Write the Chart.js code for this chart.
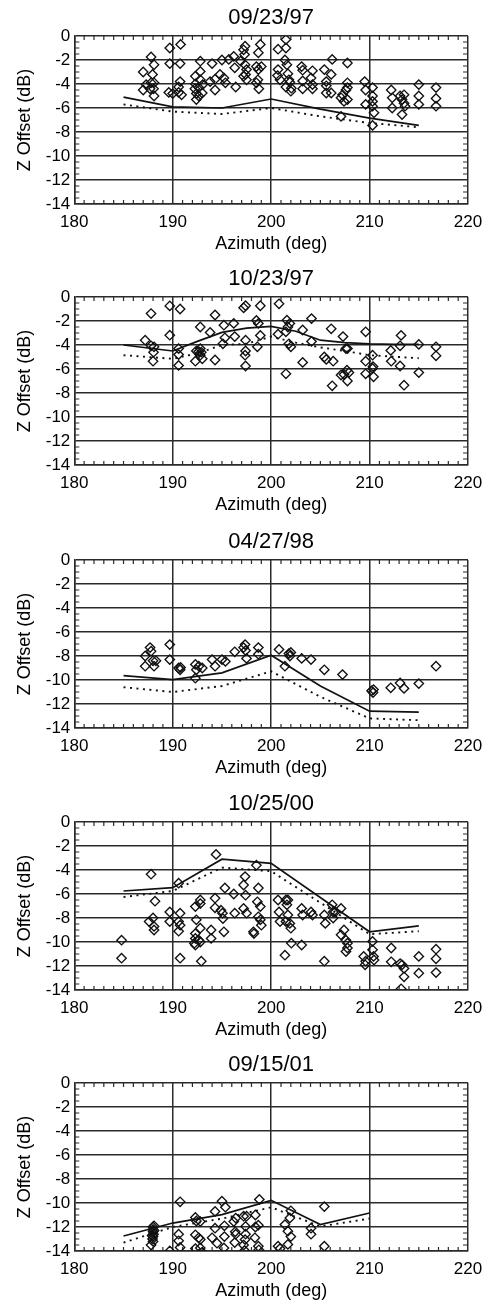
<!DOCTYPE html>
<html><head><meta charset="utf-8">
<script src="https://cdn.jsdelivr.net/npm/chart.js@4.4.1/dist/chart.umd.min.js"></script>
<style>
html,body{margin:0;padding:0;background:#fff;overflow:hidden;width:490px;height:1300px;}
.panel{position:absolute;left:0;width:490px;height:256px;}
canvas{display:block;}
</style></head><body>
<div class="panel" style="top:0px"><canvas id="c1" width="490" height="256"></canvas></div>
<div class="panel" style="top:261px"><canvas id="c2" width="490" height="256"></canvas></div>
<div class="panel" style="top:524px"><canvas id="c3" width="490" height="256"></canvas></div>
<div class="panel" style="top:786px"><canvas id="c4" width="490" height="256"></canvas></div>
<div class="panel" style="top:1047px"><canvas id="c5" width="490" height="256"></canvas></div>
<script>
const FONT = '"Liberation Sans", Arial, Helvetica, sans-serif';
const titles = ['09/23/97','10/23/97','04/27/98','10/25/00','09/15/01'];
const xTickValues = [180,190,200,210,220];
const yTickValues = [0,-2,-4,-6,-8,-10,-12,-14];
const xAxisTitle = 'Azimuth (deg)';
const yAxisTitle = 'Z Offset (dB)';

// Panel 1 : 09/23/97
const p1Points = [[187.0,-3.0],[187.0,-4.5],[187.3,-4.05],[187.8,-1.75],[187.95,-3.2],[188.1,-2.4],[187.8,-3.9],[188.1,-3.9],[188.05,-4.4],[188.1,-5.0],[187.7,-4.4],
[189.7,-1.0],[189.7,-2.3],[189.6,-4.7],[190.0,-4.8],[190.8,-0.7],[190.75,-2.3],[190.75,-3.8],[190.6,-4.25],[190.6,-4.7],[190.9,-4.9],
[192.3,-3.35],[192.3,-4.0],[192.25,-4.4],[192.4,-4.8],[192.4,-5.3],[192.8,-2.1],[192.8,-2.95],[192.8,-3.65],[192.65,-4.3],[193.0,-4.75],[192.65,-5.0],[193.05,-4.05],
[193.8,-3.8],[194.0,-2.3],[194.3,-4.5],[194.3,-3.6],[195.0,-2.0],[194.8,-3.2],[195.2,-3.5],[195.35,-3.9],[195.7,-1.95],
[196.2,-1.7],[196.3,-2.65],[196.4,-4.25],[196.9,-2.1],[197.2,-1.15],[197.35,-0.85],[197.3,-1.55],[197.35,-2.4],[197.5,-2.8],[197.4,-3.2],[197.5,-3.65],[197.2,-3.35],
[198.9,-0.7],[198.7,-1.4],[198.5,-2.55],[198.7,-2.8],[199.0,-2.55],[198.65,-3.65],[198.5,-3.9],[198.75,-4.4],
[200.7,-1.1],[200.7,-2.8],[200.65,-3.3],[200.9,-3.65],
[201.5,-0.3],[201.5,-1.0],[201.4,-2.0],[201.6,-2.4],[201.7,-3.15],[201.8,-3.65],[201.5,-4.25],[201.9,-3.85],[202.05,-4.35],[202.0,-4.6],
[203.1,-2.55],[203.2,-2.85],[203.2,-3.75],[203.2,-4.4],[204.2,-2.9],[204.05,-3.5],[204.2,-4.05],[204.2,-4.4],
[205.4,-2.8],[205.6,-3.8],[205.6,-4.15],[205.6,-4.75],[206.2,-1.95],[206.1,-3.2],[206.1,-4.75],
[207.1,-6.7],[207.1,-5.15],[207.25,-4.9],[207.4,-5.45],[207.6,-4.5],[207.75,-2.25],[207.75,-3.9],[207.75,-4.3],[207.75,-5.3],
[209.5,-3.8],[209.6,-4.5],[209.6,-5.7],[210.3,-4.3],[210.3,-5.0],[210.3,-5.45],[210.3,-5.85],[210.45,-6.4],[210.3,-7.45],
[212.2,-4.5],[212.3,-5.15],[212.3,-6.0],[213.1,-5.0],[213.3,-5.3],[213.5,-4.9],[213.5,-5.6],[213.3,-6.55],[213.6,-5.85],
[215.0,-4.05],[215.0,-5.0],[215.0,-5.7],[216.75,-4.3],[216.75,-5.2],[216.75,-5.85]];
const p1SolidAz = [185,190,195,200,205,210,215];
const p1Solid = [-5.1,-5.9,-6.0,-5.25,-6.1,-6.85,-7.45];
const p1DotAz = [185,190,195,200,205,210,215];
const p1Dot = [-5.7,-6.3,-6.5,-6.0,-6.7,-7.25,-7.6];

// Panel 2 : 10/23/97
const p2Points = [[187.2,-3.6],[187.8,-1.38],[187.8,-4.07],[188.1,-4.15],[188.05,-4.6],[188.0,-5.35],
[189.7,-0.74],[189.7,-3.18],[190.75,-1.0],[190.6,-4.3],[190.6,-4.8],[190.6,-5.7],
[192.3,-5.35],[192.4,-4.5],[192.65,-4.55],[192.8,-2.5],[192.8,-4.3],[192.8,-4.85],[193.0,-5.15],[192.9,-4.6],
[193.8,-2.95],[194.3,-1.5],[194.3,-5.25],[195.1,-3.9],[195.2,-2.35],[195.3,-3.4],
[196.2,-2.2],[196.3,-3.3],[197.2,-0.9],[197.4,-0.73],[197.35,-4.85],[197.4,-3.6],[197.4,-4.5],[197.4,-5.75],
[198.5,-1.95],[198.7,-2.2],[198.9,-3.2],[198.6,-4.15],[198.9,-0.73],
[200.8,-0.57],[200.7,-3.1],
[201.6,-1.93],[201.7,-2.5],[201.9,-2.2],[201.8,-3.9],[202.0,-4.15],[201.5,-6.4],[201.5,-2.9],
[203.2,-2.75],[203.2,-5.45],[204.1,-1.8],[204.1,-3.7],
[205.4,-5.0],[205.6,-5.2],[206.1,-2.65],[206.3,-5.35],[206.2,-7.4],
[207.1,-6.5],[207.3,-3.3],[207.4,-6.45],[207.6,-4.3],[207.75,-4.3],[207.7,-6.1],[207.75,-7.0],[207.9,-6.3],
[209.6,-2.9],[209.6,-5.35],[209.6,-6.4],[210.3,-4.85],[210.3,-5.95],[210.4,-6.65],[210.35,-5.8],
[212.15,-4.45],[212.2,-5.35],[213.2,-3.2],[213.1,-4.07],[213.1,-5.75],[213.5,-7.35],
[215.0,-3.95],[215.0,-6.3],[216.75,-4.15],[216.75,-4.9]];
const p2SolidAz = [185,187.5,190,192.5,195,197.5,200,202.5,205,207.5,210,212.5,215];
const p2Solid = [-4.0,-4.25,-4.5,-3.7,-2.95,-2.6,-2.45,-2.85,-3.6,-3.8,-3.9,-3.95,-3.95];
const p2DotAz = [185,190,192.5,195,197.5,200,202.5,205,207.5,210,215];
const p2Dot = [-4.85,-5.15,-4.7,-4.0,-3.9,-3.3,-3.8,-4.2,-4.5,-4.85,-5.1];

// Panel 3 : 04/27/98
const p3Points = [[187.2,-8.85],[187.2,-8.0],[187.7,-7.3],[187.8,-7.6],[188.0,-8.4],[188.1,-8.85],[188.3,-8.4],
[189.7,-7.05],[189.7,-8.3],[190.6,-9.0],[190.75,-9.15],[190.8,-8.95],
[192.3,-8.7],[192.3,-9.85],[192.4,-9.15],[192.65,-8.85],[193.0,-9.0],
[194.0,-8.3],[194.3,-8.85],[195.0,-8.3],[195.35,-8.45],
[196.3,-7.65],[197.2,-7.3],[197.35,-7.05],[197.5,-8.2],[197.4,-7.55],
[198.7,-7.3],[198.7,-7.85],
[200.8,-7.45],[201.4,-8.85],[201.8,-7.8],[202.0,-7.7],[201.9,-8.0],
[203.1,-8.2],[204.05,-8.3],[205.4,-9.15],[207.25,-9.55],
[210.2,-10.9],[210.35,-11.05],[210.4,-10.8],
[212.15,-10.65],[213.1,-10.25],[213.5,-10.7],[215.0,-10.3],[216.75,-8.85]];
const p3SolidAz = [185,190,195,200,205,210,215];
const p3Solid = [-9.64,-9.97,-9.4,-7.94,-10.5,-12.6,-12.67];
const p3DotAz = [185,190,195,200,205,210,215];
const p3Dot = [-10.6,-11.0,-10.5,-9.28,-11.4,-13.2,-13.35];

// Panel 4 : 10/25/00
const p4Points = [[184.8,-9.85],[184.8,-11.35],
[187.8,-4.35],[187.6,-8.3],[188.0,-8.0],[188.1,-8.7],[188.1,-9.0],[188.2,-6.6],
[189.7,-7.5],[189.7,-8.3],
[190.6,-5.1],[190.75,-7.6],[190.6,-8.3],[190.75,-8.6],[190.6,-9.1],[190.75,-11.35],
[192.3,-7.05],[192.4,-8.15],[192.3,-9.3],[192.3,-9.7],[192.3,-10.25],[192.2,-10.1],[192.65,-9.85],
[192.8,-6.5],[192.8,-6.8],[192.8,-8.85],[192.8,-10.0],[192.9,-11.6],
[193.9,-9.0],[193.9,-9.7],[194.3,-6.35],[194.3,-7.15],[194.4,-2.7],
[194.9,-7.35],[195.1,-8.05],[195.2,-9.15],[195.3,-5.5],[195.05,-7.6],
[196.2,-6.0],[196.3,-7.6],
[197.2,-5.25],[197.35,-4.55],[197.4,-6.1],[197.2,-7.2],[197.5,-7.6],
[198.2,-9.15],[198.25,-9.3],
[198.5,-3.6],[198.7,-5.5],[198.6,-6.65],[198.9,-7.05],[198.7,-7.9],[198.9,-8.15],[199.0,-8.6],
[200.7,-6.5],[200.8,-7.5],[200.9,-8.3],
[201.5,-6.5],[201.7,-6.5],[201.6,-6.9],[201.7,-7.75],[201.5,-8.3],[201.9,-8.45],[202.0,-8.85],[202.05,-10.1],[201.4,-11.1],
[203.1,-7.2],[203.2,-7.75],[203.1,-10.25],
[204.05,-7.5],[204.2,-7.75],
[205.4,-7.75],[205.5,-8.45],[205.4,-11.6],
[206.2,-6.9],[206.3,-7.5],[206.3,-8.0],[206.5,-7.5],
[207.1,-7.2],[207.1,-9.4],[207.4,-9.0],[207.6,-9.85],[207.75,-10.1],[207.6,-10.8],[207.75,-10.5],
[209.4,-11.2],[209.55,-11.9],[209.6,-11.6],
[210.3,-9.95],[210.3,-10.65],[210.4,-11.2],[210.45,-11.5],
[212.2,-10.5],[212.2,-11.65],
[213.1,-11.8],[213.3,-11.9],[213.5,-12.2],[213.5,-12.9],[213.2,-13.9],
[215.0,-11.2],[215.0,-12.6],
[216.75,-10.6],[216.75,-11.4],[216.75,-12.55]];
const p4SolidAz = [185,190,195,200,210,215];
const p4Solid = [-5.75,-5.47,-3.1,-3.45,-9.15,-8.65];
const p4DotAz = [185,190,195,200,210,215];
const p4Dot = [-6.25,-5.75,-3.8,-4.1,-9.35,-9.1];

// Panel 5 : 09/15/01
const p5Points = [[187.8,-13.5],[188.0,-12.0],[188.0,-12.2],[188.0,-12.4],[188.05,-12.6],[188.0,-12.8],[187.95,-13.0],[188.1,-11.9],[188.1,-12.3],[187.9,-12.7],[188.0,-13.2],
[189.7,-14.0],
[190.75,-9.9],[190.6,-12.6],[190.6,-13.15],[190.75,-13.7],
[192.3,-11.2],[192.4,-11.5],[192.3,-12.65],[192.65,-12.9],[192.8,-11.55],[192.8,-13.05],[192.3,-13.8],[192.8,-13.75],[193.0,-14.1],
[194.0,-12.9],[194.3,-10.7],[194.3,-12.1],[194.5,-13.35],
[195.0,-9.85],[195.35,-10.35],[195.25,-11.9],[195.25,-12.8],[195.2,-13.75],
[196.2,-11.55],[196.35,-12.4],[196.4,-11.26],[196.4,-12.6],[196.3,-13.3],
[197.2,-11.1],[197.5,-11.1],[197.4,-11.95],[197.35,-13.05],[197.2,-13.5],[197.3,-13.95],[197.4,-12.6],
[198.4,-11.0],[198.7,-11.85],[198.8,-9.7],[198.35,-12.9],[198.7,-13.6],[198.75,-13.9],[198.4,-12.0],
[200.7,-13.6],[200.9,-13.8],
[201.4,-11.8],[201.7,-12.35],[201.9,-11.25],[202.0,-10.65],[202.0,-12.8],[201.7,-13.45],
[204.05,-12.1],[204.05,-12.6],
[205.4,-10.3],[205.4,-13.6]];
const p5SolidAz = [185,190,195,200,205,210];
const p5Solid = [-12.75,-11.67,-10.97,-9.78,-11.8,-10.83];
const p5DotAz = [185,190,195,200,205,210];
const p5Dot = [-13.3,-12.0,-11.3,-10.36,-11.95,-11.3];

const panels = [
  {id:'c1', title:titles[0], pts:p1Points, sAz:p1SolidAz, s:p1Solid, dAz:p1DotAz, d:p1Dot},
  {id:'c2', title:titles[1], pts:p2Points, sAz:p2SolidAz, s:p2Solid, dAz:p2DotAz, d:p2Dot},
  {id:'c3', title:titles[2], pts:p3Points, sAz:p3SolidAz, s:p3Solid, dAz:p3DotAz, d:p3Dot},
  {id:'c4', title:titles[3], pts:p4Points, sAz:p4SolidAz, s:p4Solid, dAz:p4DotAz, d:p4Dot},
  {id:'c5', title:titles[4], pts:p5Points, sAz:p5SolidAz, s:p5Solid, dAz:p5DotAz, d:p5Dot}
];

const AXIS_COLOR = '#2a2a2a';

const minorTickPlugin = {
  id: 'minorTicks',
  beforeDatasetsDraw(chart) {
    const {ctx, chartArea: a, scales: {x, y}} = chart;
    ctx.save();
    ctx.strokeStyle = AXIS_COLOR;
    ctx.lineWidth = 1.2;
    ctx.beginPath();
    for (let v = x.min + 1; v < x.max; v++) {
      if (v % 10 === 0) continue;
      const px = x.getPixelForValue(v);
      ctx.moveTo(px, a.bottom); ctx.lineTo(px, a.bottom - 4);
      ctx.moveTo(px, a.top); ctx.lineTo(px, a.top + 4);
    }
    for (let k = 1; k < 28; k++) {
      if (k % 4 === 0) continue;
      const v = -k * 0.5;
      const py = y.getPixelForValue(v);
      ctx.moveTo(a.left, py); ctx.lineTo(a.left + 5, py);
      ctx.moveTo(a.right, py); ctx.lineTo(a.right - 5, py);
    }
    ctx.stroke();
    ctx.restore();
  }
};

panels.forEach(p => {
  new Chart(document.getElementById(p.id), {
    type: 'scatter',
    data: {
      datasets: [
        {type:'line', data: p.sAz.map((a,i)=>({x:a, y:p.s[i]})), borderColor:'#111', borderWidth:1.7, pointRadius:0, fill:false, tension:0, clip:0},
        {type:'line', data: p.dAz.map((a,i)=>({x:a, y:p.d[i]})), borderColor:'#111', borderWidth:1.9, borderDash:[2,4.5], pointRadius:0, fill:false, tension:0, clip:0},
        {type:'scatter', data: p.pts.map(([a,v])=>({x:a, y:v})), pointStyle:'rectRot', pointRadius:4.7, borderColor:'#111', borderWidth:1.35, backgroundColor:'rgba(0,0,0,0)', clip:0}
      ]
    },
    options: {
      responsive: false, animation: false, devicePixelRatio: 1, events: [],
      layout: {padding: {left:0, right:18.5, top:0, bottom:0}},
      plugins: {
        legend: {display:false},
        tooltip: {enabled:false},
        title: {display:false}
      },
      scales: {
        x: {
          type:'linear', position:'bottom', min:180, max:220,
          afterBuildTicks: s => { s.ticks = xTickValues.map(v => ({value:v})); },
          afterFit: s => { s.height = 52; },
          ticks: {color:'#000', font:{family:FONT, size:17, lineHeight:1.2}, padding:7.8, maxRotation:0, autoSkip:false, callback: v => String(v)},
          grid: {color:AXIS_COLOR, lineWidth:1.5, drawTicks:false},
          border: {color:AXIS_COLOR, width:1.5},
          title: {display:true, text:xAxisTitle, color:'#000', font:{family:FONT, size:18, lineHeight:1.2}, padding:{top:0, bottom:1.2}}
        },
        xTop: {
          type:'linear', position:'top', min:180, max:220,
          afterBuildTicks: s => { s.ticks = xTickValues.map(v => ({value:v})); },
          afterFit: s => { s.height = 36; },
          ticks: {display:false},
          grid: {display:false},
          border: {display:false},
          title: {display:true, text:p.title, color:'#000', font:{family:FONT, size:22, lineHeight:1}, padding:{top:7, bottom:0}}
        },
        y: {
          type:'linear', position:'left', min:-14, max:0,
          afterBuildTicks: s => { s.ticks = yTickValues.map(v => ({value:v})); },
          afterFit: s => { s.width = 74.3; },
          ticks: {color:'#000', font:{family:FONT, size:17, lineHeight:1.2}, padding:4, autoSkip:false, callback: v => String(v)},
          grid: {color:AXIS_COLOR, lineWidth:1.5, drawTicks:false},
          border: {color:AXIS_COLOR, width:1.5},
          title: {display:true, text:yAxisTitle, color:'#000', font:{family:FONT, size:18, lineHeight:1.2}, padding:{top:14.2, bottom:0}}
        }
      }
    },
    plugins: [minorTickPlugin]
  });
});
</script>
</body></html>
